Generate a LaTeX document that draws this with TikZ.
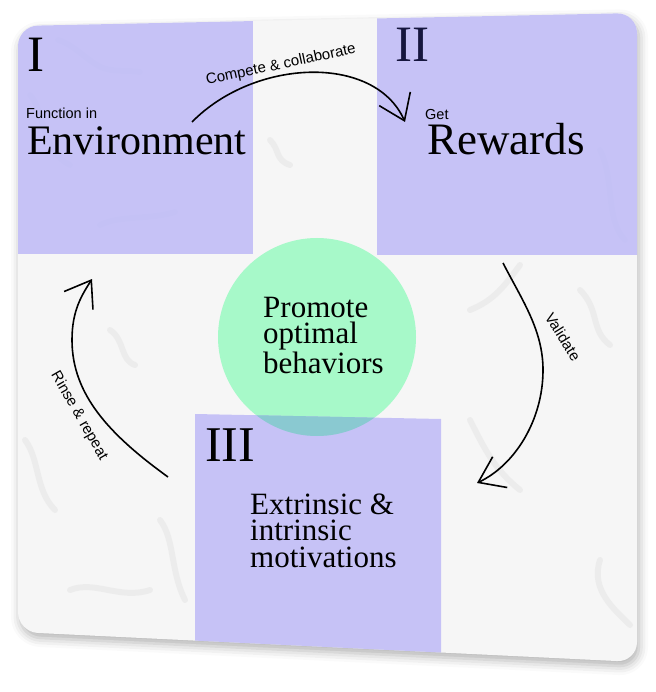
\documentclass[tikz,border=0pt]{standalone}
\usepackage{fontspec}
\setmainfont{Liberation Serif}
\newfontfamily\labelfont{Liberation Sans}
\usetikzlibrary{arrows.meta,shadows.blur}

\definecolor{boxpurple}{RGB}{190,186,247}
\definecolor{goalgreen}{RGB}{167,249,201}
\definecolor{overlapteal}{RGB}{138,201,209}
\definecolor{marble}{RGB}{246,246,246}
\definecolor{vein}{RGB}{228,228,228}
\definecolor{romannavy}{RGB}{22,22,62}

\tikzset{
  romanno/.style={font=\fontsize{51}{51}\selectfont, anchor=base west, inner sep=0pt},
  headline/.style={font=\fontsize{42}{42}\selectfont, anchor=base west, inner sep=0pt},
  smalllabel/.style={font=\labelfont\fontsize{14.5}{14.5}\selectfont, anchor=base west, inner sep=0pt},
  phrase/.style={font=\fontsize{31}{26.5}\selectfont, align=left, anchor=base west, inner sep=0pt},
  arrowlabel/.style={font=\labelfont\fontsize{15}{15}\selectfont, inner sep=0pt},
  quarter/.style={fill=boxpurple, fill opacity=.85},
  veinline/.style={draw=vein, line width=6pt, line cap=round, opacity=.5},
  cyclearrow/.style={-{Straight Barb[length=24pt,width=34pt]}, line width=1.6pt},
}

\begin{document}
\begin{tikzpicture}[x=1pt,y=-1pt]
  \useasboundingbox (0,0) rectangle (655,692);
  % card
  \fill[marble, rounded corners=20pt,
    blur shadow={shadow xshift=2pt, shadow yshift=-5pt, shadow blur radius=9pt, shadow opacity=30}]
    (18,26) -- (637,13) -- (637,662) -- (18,632) -- cycle;
  \begin{scope}
    \clip[rounded corners=20pt] (18,26) -- (637,13) -- (637,662) -- (18,632) -- cycle;
    % marble veins
    \path[veinline] (58,40) .. controls (75,45) and (88,62) .. (103,68) .. controls (115,72) and (125,70) .. (140,72);
    \path[veinline] (30,95) .. controls (45,110) and (40,150) .. (70,165);
    \path[veinline] (100,225) .. controls (120,215) and (150,220) .. (175,212);
    \path[veinline] (270,140) .. controls (280,150) and (275,160) .. (290,165);
    \path[veinline] (520,265) .. controls (505,285) and (495,300) .. (470,310);
    \path[veinline] (580,290) .. controls (600,310) and (590,330) .. (610,345);
    \path[veinline] (600,150) .. controls (615,180) and (605,220) .. (625,240);
    \path[veinline] (470,420) .. controls (485,450) and (495,470) .. (520,490);
    \path[veinline] (600,560) .. controls (590,590) and (615,610) .. (630,625);
    \path[veinline] (25,440) .. controls (40,460) and (35,490) .. (55,510);
    \path[veinline] (70,590) .. controls (95,580) and (120,600) .. (150,590);
    \path[veinline] (160,520) .. controls (175,540) and (170,570) .. (185,600);
    \path[veinline] (110,330) .. controls (125,340) and (120,360) .. (135,365);
    % quarters
    \fill[quarter] (0,0) rectangle (253,254);
    \fill[quarter] (377,0) rectangle (660,255);
    % centre goal
    \fill[goalgreen] (317,337) circle[radius=99];
    \fill[quarter] (195,414) -- (441,419) -- (441,700) -- (195,700) -- cycle;
    \begin{scope}
      \clip (195,414) -- (441,419) -- (441,700) -- (195,700) -- cycle;
      \fill[overlapteal] (317,337) circle[radius=99];
    \end{scope}
  \end{scope}

  % texts
  \node[romanno] (numI) at (27,72) {I};
  \node[romanno, text=romannavy] (numII) at (395,62) {II};
  \node[romanno, font=\fontsize{50}{50}\selectfont] (numIII) at (205,461) {III};
  \node[smalllabel] (funcin) at (26,119) {Function in};
  \node[headline] (envir) at (27,155) {Environment};
  \node[smalllabel] (getlbl) at (425,120) {Get};
  \node[headline, font=\fontsize{45}{45}\selectfont] (rewards) at (427,155) {Rewards};
  \node[phrase] (promote) at (263,373) {Promote\\optimal\\behaviors};
  \node[phrase] (motiv) at (250,567) {Extrinsic \&\\intrinsic\\motivations};

  % cycle arrows
  \coordinate (envout) at (192,122);
  \coordinate (rewin) at (405,122);
  \coordinate (rewout) at (503,263);
  \coordinate (motin) at (477,483);
  \coordinate (motout) at (168,477);
  \coordinate (envin) at (92,279);
  \draw[cyclearrow] (envout) .. controls (255,58) and (375,54) .. (rewin);
  \draw[cyclearrow] (rewout) .. controls (522,300) and (543,330) .. (543,370)
    .. controls (543,420) and (515,465) .. (motin);
  \draw[cyclearrow] (motout) .. controls (110,435) and (72,395) .. (72,340)
    .. controls (72,310) and (82,295) .. (envin);
  \node[arrowlabel, rotate=12] (compete) at (281,65) {Compete \& collaborate};
  \node[arrowlabel, rotate=-58] (validate) at (563,337) {Validate};
  \node[arrowlabel, rotate=-60] (rinse) at (79,416) {Rinse \& repeat};
\end{tikzpicture}
\end{document}
